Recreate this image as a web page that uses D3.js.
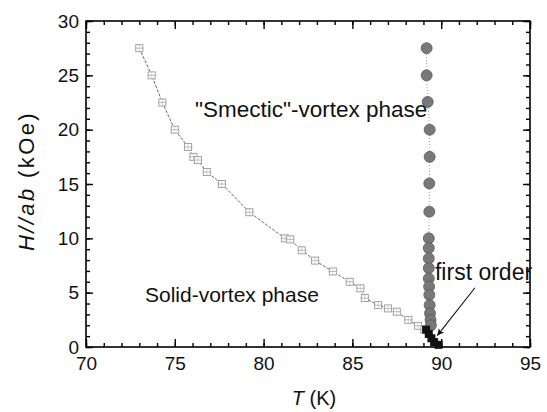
<!DOCTYPE html>
<html>
<head>
<meta charset="utf-8">
<script src="https://cdn.jsdelivr.net/npm/d3@7"></script>
<style>
  body { margin: 0; background: #fff; }
  svg { font-family: Arial, "Liberation Sans", sans-serif; }
</style>
</head>
<body>
<script>
// solid-vortex boundary (open squares), [T (K), H (kOe)]
var solidT = [73.0, 73.7, 74.3, 75.0, 75.75, 76.05, 76.3, 76.8, 77.65, 79.2, 81.2, 81.5, 82.15, 82.9, 83.9, 84.85, 85.45, 85.7, 86.45, 87.0, 87.5, 88.15, 88.7, 89.05];
var solidH = [27.5, 25.0, 22.5, 20.0, 18.4, 17.5, 17.2, 16.1, 15.0, 12.4, 10.0, 9.9, 8.9, 7.95, 6.95, 6.0, 5.4, 4.5, 3.85, 3.55, 3.25, 2.5, 1.95, 1.6];

// "smectic" boundary (grey circles)
var smecticT = [89.18, 89.18, 89.24, 89.35, 89.35, 89.33, 89.33, 89.3, 89.3, 89.3, 89.3, 89.3, 89.32, 89.33, 89.35, 89.37, 89.4, 89.42];
var smecticH = [27.5, 25.0, 22.55, 20.0, 17.5, 15.05, 12.45, 10.0, 9.1, 8.15, 7.25, 6.3, 5.55, 4.8, 3.85, 3.1, 2.5, 2.0];

// first order transition (black squares)
var firstT = [89.15, 89.3, 89.45, 89.6, 89.85];
var firstH = [1.6, 1.2, 0.8, 0.45, 0.2];

var xTicks = [70, 75, 80, 85, 90, 95];
var yTicks = [0, 5, 10, 15, 20, 25, 30];

var width = 547, height = 412;
var margin = {left: 86, right: 17, top: 21, bottom: 65};

var svg = d3.select("body").append("svg")
    .attr("width", width)
    .attr("height", height);

var x = d3.scaleLinear().domain([70, 95]).range([margin.left, width - margin.right]);
var y = d3.scaleLinear().domain([0, 30]).range([height - margin.bottom, margin.top]);

var minorX = d3.range(70, 96, 1);
var minorY = d3.range(0, 31, 1);

function styleAxis(g) {
  g.select(".domain").remove();
  g.selectAll("line").attr("stroke", "#000").attr("stroke-width", 1.4);
  g.selectAll("text").attr("font-size", 19).attr("fill", "#111");
}

// bottom
svg.append("g").attr("transform", "translate(0," + y(0) + ")")
  .call(d3.axisBottom(x).tickValues(minorX).tickSize(-4).tickFormat("")).call(styleAxis);
svg.append("g").attr("transform", "translate(0," + y(0) + ")")
  .call(d3.axisBottom(x).tickValues(xTicks).tickSize(-8).tickPadding(10).tickFormat(d3.format("d"))).call(styleAxis);
// top
svg.append("g").attr("transform", "translate(0," + y(30) + ")")
  .call(d3.axisTop(x).tickValues(minorX).tickSize(-4).tickFormat("")).call(styleAxis);
svg.append("g").attr("transform", "translate(0," + y(30) + ")")
  .call(d3.axisTop(x).tickValues(xTicks).tickSize(-8).tickFormat("")).call(styleAxis);
// left
svg.append("g").attr("transform", "translate(" + x(70) + ",0)")
  .call(d3.axisLeft(y).tickValues(minorY).tickSize(-4).tickFormat("")).call(styleAxis);
svg.append("g").attr("transform", "translate(" + x(70) + ",0)")
  .call(d3.axisLeft(y).tickValues(yTicks).tickSize(-7).tickPadding(7).tickFormat(d3.format("d"))).call(styleAxis);
// right
svg.append("g").attr("transform", "translate(" + x(95) + ",0)")
  .call(d3.axisRight(y).tickValues(minorY).tickSize(-4).tickFormat("")).call(styleAxis);
svg.append("g").attr("transform", "translate(" + x(95) + ",0)")
  .call(d3.axisRight(y).tickValues(yTicks).tickSize(-7).tickFormat("")).call(styleAxis);

// frame
svg.append("rect")
  .attr("x", x(70)).attr("y", y(30))
  .attr("width", x(95) - x(70)).attr("height", y(0) - y(30))
  .attr("fill", "none").attr("stroke", "#000").attr("stroke-width", 1.6);

var solid = solidT.map(function(t, i) { return [t, solidH[i]]; });
var smectic = smecticT.map(function(t, i) { return [t, smecticH[i]]; });
var first = firstT.map(function(t, i) { return [t, firstH[i]]; });

var line = d3.line().x(function(d) { return x(d[0]); }).y(function(d) { return y(d[1]); });

svg.append("path").datum(solid).attr("d", line)
  .attr("fill", "none").attr("stroke", "#555").attr("stroke-width", 0.9).attr("stroke-dasharray", "3,1.5");

var sq = svg.append("g").selectAll("g").data(solid).enter().append("g")
  .attr("transform", function(d) { return "translate(" + x(d[0]) + "," + y(d[1]) + ")"; });
sq.append("rect").attr("x", -3.5).attr("y", -3.5).attr("width", 7).attr("height", 7)
  .attr("fill", "#fff").attr("stroke", "#999").attr("stroke-width", 0.9);
sq.append("line").attr("x1", -4.5).attr("x2", 4.5).attr("y1", 0).attr("y2", 0)
  .attr("stroke", "#aaa").attr("stroke-width", 0.8);
sq.append("line").attr("x1", 0).attr("x2", 0).attr("y1", -3.5).attr("y2", 3.5)
  .attr("stroke", "#bbb").attr("stroke-width", 0.6);

svg.append("path").datum(smectic).attr("d", line)
  .attr("fill", "none").attr("stroke", "#999").attr("stroke-width", 1).attr("stroke-dasharray", "1,2");

svg.append("g").selectAll("circle").data(smectic).enter().append("circle")
  .attr("cx", function(d) { return x(d[0]); })
  .attr("cy", function(d) { return y(d[1]); })
  .attr("r", 5.5)
  .attr("fill", "#787878").attr("stroke", "#5a5a5a").attr("stroke-width", 0.8);

svg.append("g").selectAll("rect").data(first).enter().append("rect")
  .attr("x", function(d) { return x(d[0]) - 4; })
  .attr("y", function(d) { return y(d[1]) - 4; })
  .attr("width", 8).attr("height", 8)
  .attr("fill", "#111");

// labels
svg.append("text").attr("x", x(76.14)).attr("y", y(21.16))
  .attr("font-size", 22.5).attr("fill", "#111").text("\"Smectic\"-vortex phase");
svg.append("text").attr("x", x(73.32)).attr("y", y(4.15))
  .attr("font-size", 21).attr("fill", "#111").text("Solid-vortex phase");
svg.append("text").attr("x", x(89.65)).attr("y", y(6.16))
  .attr("font-size", 23).attr("fill", "#111").text("first order");

// arrow
var arrowFrom = [91.9, 5.45], arrowTo = [89.78, 1.05];
svg.append("defs").append("marker")
  .attr("id", "head").attr("viewBox", "0 0 10 10").attr("refX", 10).attr("refY", 5)
  .attr("markerWidth", 10).attr("markerHeight", 7).attr("markerUnits", "userSpaceOnUse")
  .attr("orient", "auto")
  .append("path").attr("d", "M0,0 L10,5 L0,10 L3,5 Z").attr("fill", "#111");
svg.append("line")
  .attr("x1", x(arrowFrom[0])).attr("y1", y(arrowFrom[1]))
  .attr("x2", x(arrowTo[0])).attr("y2", y(arrowTo[1]))
  .attr("stroke", "#111").attr("stroke-width", 1.1).attr("marker-end", "url(#head)");

// axis titles
var xt = svg.append("text").attr("x", 314).attr("y", 405).attr("text-anchor", "middle")
  .attr("font-size", 20).attr("fill", "#111");
xt.append("tspan").attr("font-style", "italic").text("T");
xt.append("tspan").text(" (K)");

var yt = svg.append("text").attr("transform", "translate(34," + ((y(0) + y(30)) / 2 - 3) + ") rotate(-90)")
  .attr("text-anchor", "middle").attr("font-size", 22).attr("letter-spacing", 2.4).attr("fill", "#111");
yt.append("tspan").attr("font-style", "italic").text("H//ab");
yt.append("tspan").text(" (kOe)");
</script>
</body>
</html>
